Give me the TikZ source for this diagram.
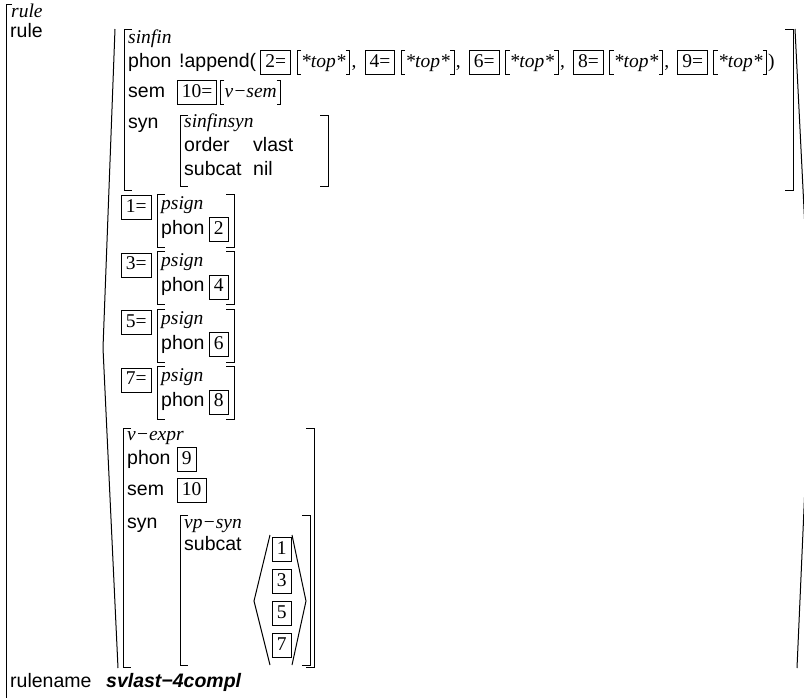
\documentclass[tikz,border=0pt]{standalone}
\usepackage{fontspec}
\setmainfont{Liberation Serif}
\setsansfont{Liberation Sans}
\usetikzlibrary{positioning}

\begin{document}
\begin{tikzpicture}[
    x=1pt, y=-1pt,
    brk/.style={line width=1pt},
    feat/.style={anchor=base west,inner sep=0pt,font=\sffamily\fontsize{19.5}{20}\selectfont},
    tname/.style={anchor=base west,inner sep=0pt,font=\rmfamily\itshape\fontsize{19.5}{20}\selectfont},
    tagbox/.style={draw,line width=0.9pt,anchor=base west,inner xsep=4.5pt,inner ysep=2.75pt,text height=13.5pt,text depth=5pt,font=\rmfamily\fontsize{19.5}{20}\selectfont},
    topv/.style={anchor=base west,inner xsep=4pt,inner ysep=2.75pt,text height=13.5pt,text depth=5pt,font=\rmfamily\itshape\fontsize{19.5}{20}\selectfont},
    punct/.style={anchor=base west,inner sep=0pt,font=\rmfamily\fontsize{19.5}{20}\selectfont}
]
\useasboundingbox (0,0) rectangle (804,697);
\clip (0,0) rectangle (804,697);

% outer rule
\draw[brk] (12,4) -| (6,702);
\node[tname] (rtype) at (11,17) {rule};
\node[feat] (rulef) at (10,37) {rule};
\node[feat] (rnamef) at (10,687) {rulename};
\node[feat,font=\sffamily\bfseries\itshape\fontsize{19.5}{20}\selectfont] (rname) at (106,687) {svlast−4compl};

% the list of daughters
\draw[brk] (115,29) -- (103,348) -- (118,668);
\draw[brk] (795,29) -- (811,349) -- (797,668);

% sinfin
\draw[brk] (132,29) -| (124,190) -- ++(8,0);
\draw[brk] (785,29) -| (793,190) -- ++(-8,0);
\node[tname] (sinfin) at (128,43) {sinfin};
\node[feat] (sphon) at (128,67) {phon};
\node[feat] (sapp) at (179,67) {!append(};
\node[tagbox,base right=4pt of sapp] (g2) {2=};
\node[topv,base right=6pt of g2] (t2) {*top*};
\node[punct,base right=1.5pt of t2] (c2) {,};
\node[tagbox,base right=8pt of c2] (g4) {4=};
\node[topv,base right=6pt of g4] (t4) {*top*};
\node[punct,base right=1.5pt of t4] (c4) {,};
\node[tagbox,base right=8pt of c4] (g6) {6=};
\node[topv,base right=6pt of g6] (t6) {*top*};
\node[punct,base right=1.5pt of t6] (c6) {,};
\node[tagbox,base right=8pt of c6] (g8) {8=};
\node[topv,base right=6pt of g8] (t8) {*top*};
\node[punct,base right=1.5pt of t8] (c8) {,};
\node[tagbox,base right=8pt of c8] (g9) {9=};
\node[topv,base right=6pt of g9] (t9) {*top*};
\node[punct,base right=1pt of t9] (close) {)};

\node[feat] (ssem) at (128,97) {sem};
\node[tagbox] (g10) at (177,97) {10=};
\node[topv,base right=3pt of g10] (vsem) {v−sem};

\node[feat] (ssyn) at (128,128) {syn};
\draw[brk] (188,115) -| (180,186) -- ++(8,0);
\draw[brk] (320,115) -| (328,186) -- ++(-8,0);
\node[tname] (sfs) at (184,127) {sinfinsyn};
\node[feat] (sord) at (184,151) {order};
\node[feat] (svl) at (253,151) {vlast};
\node[feat] (ssub) at (184,175) {subcat};
\node[feat] (snil) at (253,175) {nil};

\foreach \n in {t2,t4,t6,t8,t9,vsem}
  \draw[brk] ([xshift=4pt]\n.north west) -| (\n.south west) -- ++(4pt,0)
             ([xshift=-4pt]\n.north east) -| (\n.south east) -- ++(-4pt,0);

% psign daughters
\foreach \a/\b [count=\i from 0] in {1/2,3/4,5/6,7/8} {
  \pgfmathsetmacro\yt{194+57.5*\i}
  \node[tagbox] (g\a) at (121,\yt+18) {\a=};
  \draw[brk] (165,\yt) -| (157,\yt+53) -- ++(8,0);
  \draw[brk] (226,\yt) -| (234,\yt+53) -- ++(-8,0);
  \node[tname] (ps\a) at (161,\yt+15) {psign};
  \node[feat] (pp\a) at (161,\yt+40) {phon};
  \node[tagbox] (pt\b) at (209,\yt+40) {\b};
}

% v-expr head
\draw[brk] (131,428) -| (123,667) -- ++(8,0);
\draw[brk] (306,428) -| (314,667) -- ++(-8,0);
\node[tname] (vexpr) at (127,440) {v−expr};
\node[feat] (vphon) at (127,464) {phon};
\node[tagbox] (v9) at (177,464) {9};
\node[feat] (vsemf) at (127,495) {sem};
\node[tagbox] (v10) at (177,495) {10};
\node[feat] (vsyn) at (127,528) {syn};
\draw[brk] (188,515) -| (180,665) -- ++(8,0);
\draw[brk] (302,515) -| (310,665) -- ++(-8,0);
\node[tname] (vps) at (184,528) {vp−syn};
\node[feat] (vsub) at (184,550) {subcat};
\draw[brk] (270,535) -- (254,601) -- (270,665);
\draw[brk] (292,535) -- (306,601) -- (292,665);
\foreach \k [count=\j from 0] in {1,3,5,7}
  \node[tagbox] (l\k) at (272,554+32*\j) {\k};

\end{tikzpicture}
\end{document}
